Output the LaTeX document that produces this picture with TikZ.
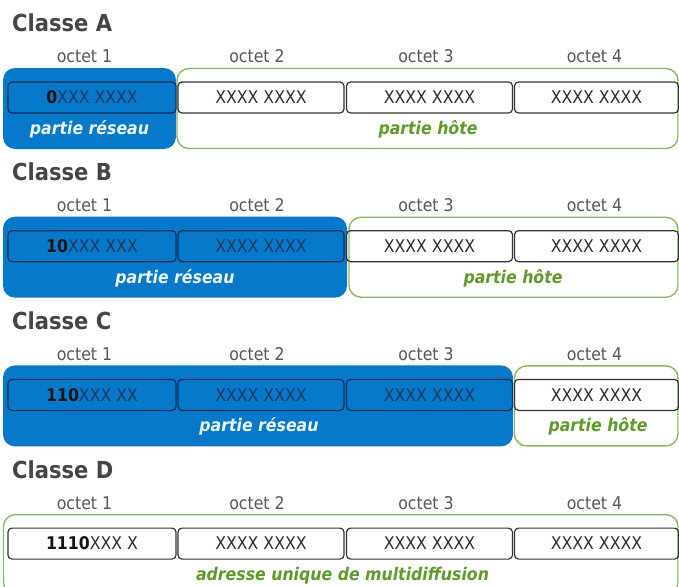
\documentclass[tikz,border=0pt]{standalone}
\usepackage{fontspec}
\setmainfont{DejaVu Sans}[FakeStretch=0.9]
\definecolor{netblue}{HTML}{0779CB}
\definecolor{hostgreen}{HTML}{8DB862}
\definecolor{hosttext}{HTML}{5E9B2A}
\definecolor{titlegrey}{HTML}{454545}
\definecolor{labelgrey}{HTML}{575757}
\definecolor{boxline}{HTML}{333333}
\definecolor{boxlineblue}{HTML}{12305A}
\definecolor{bluetext}{HTML}{1C3A62}
\definecolor{nettextcol}{HTML}{EAF5FF}
\tikzset{
  x=1pt, y=-1pt,
  netpart/.style={fill=netblue, rounded corners=12pt},
  hostpart/.style={draw=hostgreen, line width=1.4pt, fill=white, rounded corners=12pt},
  octetbox/.style={draw=boxline, line width=1.2pt, rounded corners=4pt, minimum height=31pt,
    inner sep=0pt, text=black!82, font=\fontsize{17.5}{20}\selectfont},
  octetboxblue/.style={octetbox, draw=boxlineblue, text=bluetext},
  classtitle/.style={anchor=base west, inner sep=0pt, text=titlegrey, font=\fontsize{23.4}{26}\selectfont\bfseries},
  octetlabel/.style={anchor=base, inner sep=0pt, text=labelgrey, font=\fontsize{17.5}{20}\selectfont},
  nettext/.style={anchor=base, inner sep=0pt, text=nettextcol, font=\fontsize{17.5}{20}\selectfont\bfseries\itshape},
  hosttextstyle/.style={anchor=base, inner sep=0pt, text=hosttext, font=\fontsize{17.5}{20}\selectfont\bfseries\itshape},
  wide/.style={minimum width=168pt},
  narrow/.style={minimum width=166pt},
  last/.style={minimum width=164pt}
}
\newcommand{\pfx}[1]{\textbf{\color{black!92}#1}}
\begin{document}
\begin{tikzpicture}
\useasboundingbox (0,0) rectangle (679,586);
\clip (0,0) rectangle (679,586);
\fill[white] (0,0) rectangle (679,586);

% ---------- Classe A ----------
\node[classtitle] (tA) at (12,32) {Classe A};
\node[octetlabel] (lA1) at (84.5,63) {octet 1};
\node[octetlabel] (lA2) at (257,63) {octet 2};
\node[octetlabel] (lA3) at (426,63) {octet 3};
\node[octetlabel] (lA4) at (594.5,63) {octet 4};
\path[netpart] (3,68) rectangle (176,149);
\path[hostpart] (177,68.5) rectangle (678,148.5);
\node[octetboxblue, wide] (a1) at (92,97.5) {\pfx{0}XXX XXXX};
\node[octetbox, narrow] (a2) at (261,97.5) {XXXX XXXX};
\node[octetbox, narrow] (a3) at (429.5,97.5) {XXXX XXXX};
\node[octetbox, last] (a4) at (596.5,97.5) {XXXX XXXX};
\node[nettext] (nA) at (89.5,134.5) {partie réseau};
\node[hosttextstyle] (hA) at (428,134.5) {partie hôte};

% ---------- Classe B ----------
\begin{scope}[yshift=-148.7pt]
\node[classtitle] (tB) at (12,32) {Classe B};
\node[octetlabel] (lB1) at (84.5,63) {octet 1};
\node[octetlabel] (lB2) at (257,63) {octet 2};
\node[octetlabel] (lB3) at (426,63) {octet 3};
\node[octetlabel] (lB4) at (594.5,63) {octet 4};
\path[netpart] (3,68) rectangle (347,149);
\path[hostpart] (349,68.5) rectangle (678,148.5);
\node[octetboxblue, wide] (b1) at (92,97.5) {\pfx{10}XXX XXX};
\node[octetboxblue, narrow] (b2) at (261,97.5) {XXXX XXXX};
\node[octetbox, narrow] (b3) at (429.5,97.5) {XXXX XXXX};
\node[octetbox, last] (b4) at (596.5,97.5) {XXXX XXXX};
\node[nettext] (nB) at (175,134.5) {partie réseau};
\node[hosttextstyle] (hB) at (513,134.5) {partie hôte};
\end{scope}

% ---------- Classe C ----------
\begin{scope}[yshift=-297.4pt]
\node[classtitle] (tC) at (12,32) {Classe C};
\node[octetlabel] (lC1) at (84.5,63) {octet 1};
\node[octetlabel] (lC2) at (257,63) {octet 2};
\node[octetlabel] (lC3) at (426,63) {octet 3};
\node[octetlabel] (lC4) at (594.5,63) {octet 4};
\path[netpart] (3,68) rectangle (513,149);
\path[hostpart] (514.5,68.5) rectangle (678,148.5);
\node[octetboxblue, wide] (c1) at (92,97.5) {\pfx{110}XXX XX};
\node[octetboxblue, narrow] (c2) at (261,97.5) {XXXX XXXX};
\node[octetboxblue, narrow] (c3) at (429.5,97.5) {XXXX XXXX};
\node[octetbox, last] (c4) at (596.5,97.5) {XXXX XXXX};
\node[nettext] (nC) at (259,134.5) {partie réseau};
\node[hosttextstyle] (hC) at (598,134.5) {partie hôte};
\end{scope}

% ---------- Classe D ----------
\begin{scope}[yshift=-446.1pt]
\node[classtitle] (tD) at (12,32) {Classe D};
\node[octetlabel] (lD1) at (84.5,63) {octet 1};
\node[octetlabel] (lD2) at (257,63) {octet 2};
\node[octetlabel] (lD3) at (426,63) {octet 3};
\node[octetlabel] (lD4) at (594.5,63) {octet 4};
\path[hostpart] (3.5,68.5) rectangle (678,148.5);
\node[octetbox, wide] (d1) at (92,97.5) {\pfx{1110}XXX X};
\node[octetbox, narrow] (d2) at (261,97.5) {XXXX XXXX};
\node[octetbox, narrow] (d3) at (429.5,97.5) {XXXX XXXX};
\node[octetbox, last] (d4) at (596.5,97.5) {XXXX XXXX};
\node[hosttextstyle] (hD) at (342.5,134.5) {adresse unique de multidiffusion};
\end{scope}
\end{tikzpicture}
\end{document}
